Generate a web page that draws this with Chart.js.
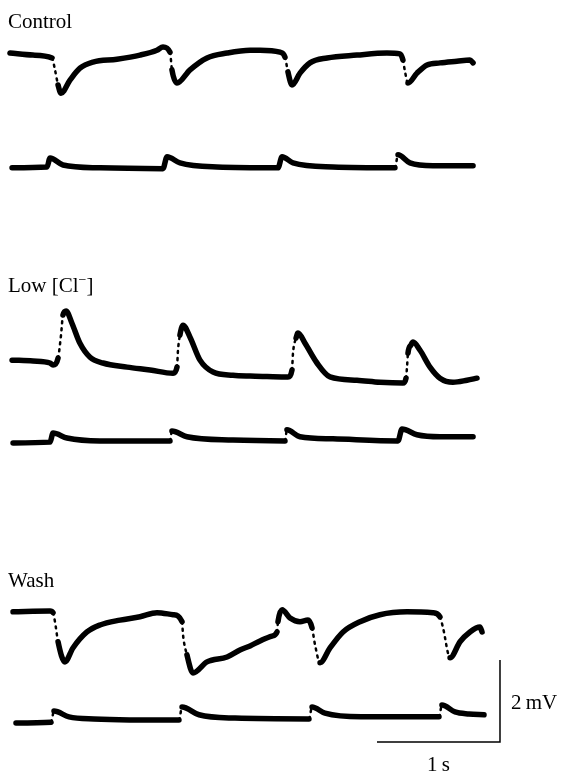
<!DOCTYPE html>
<html>
<head>
<meta charset="utf-8">
<script src="https://cdn.jsdelivr.net/npm/chart.js@4/dist/chart.umd.min.js"></script>
<style>
  html, body { margin: 0; padding: 0; background: #fff; }
  #wrap { position: relative; width: 566px; height: 773px; }
</style>
</head>
<body>
<div id="wrap"><canvas id="traces"></canvas></div>
<script>
// Lecturas de las trazas: tiempo (s) y potencial relativo (mV)
const controlTopTime = [0.081, 0.268, 0.423, 0.447, 0.472, 0.496, 0.569, 0.650, 0.756, 0.951, 1.138, 1.276, 1.325, 1.382, 1.398, 1.439, 1.545, 1.683, 1.846, 2.033, 2.114, 2.276, 2.317, 2.341, 2.374, 2.439, 2.520, 2.659, 2.902, 3.146, 3.252, 3.276, 3.293, 3.317, 3.390, 3.472, 3.577, 3.715, 3.821, 3.846];
const controlTopMV = [0, -0.05, -0.12, -0.41, -0.78, -0.98, -0.66, -0.37, -0.22, -0.15, -0.05, 0.07, 0.15, 0.02, -0.41, -0.73, -0.41, -0.12, 0, 0.07, 0.07, 0.02, -0.10, -0.46, -0.78, -0.49, -0.24, -0.12, -0.05, 0, -0.02, -0.17, -0.46, -0.73, -0.49, -0.29, -0.24, -0.20, -0.17, -0.24];

const controlBottomTime = [0.098, 0.382, 0.407, 0.512, 0.813, 1.325, 1.358, 1.463, 1.764, 2.260, 2.293, 2.382, 2.707, 3.211, 3.236, 3.333, 3.520, 3.846];
const controlBottomMV = [0, 0.02, 0.24, 0.07, 0, -0.02, 0.27, 0.12, 0.02, 0, 0.27, 0.12, 0.02, 0, 0.32, 0.12, 0.05, 0.05];

const lowClTopTime = [0.098, 0.268, 0.407, 0.431, 0.472, 0.496, 0.512, 0.537, 0.585, 0.650, 0.732, 0.837, 1.033, 1.220, 1.407, 1.439, 1.447, 1.463, 1.488, 1.545, 1.626, 1.732, 1.894, 2.033, 2.171, 2.341, 2.374, 2.382, 2.407, 2.423, 2.480, 2.577, 2.683, 2.902, 3.089, 3.276, 3.301, 3.309, 3.317, 3.341, 3.358, 3.415, 3.496, 3.577, 3.683, 3.797, 3.878];
const lowClTopMV = [0, -0.02, -0.07, -0.12, 0.05, 0.61, 1.10, 1.20, 0.90, 0.41, 0.07, -0.07, -0.17, -0.24, -0.32, -0.17, 0.24, 0.61, 0.85, 0.56, 0, -0.29, -0.37, -0.39, -0.40, -0.41, -0.24, 0.17, 0.54, 0.66, 0.41, -0.07, -0.41, -0.49, -0.54, -0.56, -0.44, -0.17, 0.17, 0.37, 0.44, 0.24, -0.17, -0.44, -0.54, -0.49, -0.44];

const lowClBottomTime = [0.106, 0.407, 0.431, 0.545, 0.813, 1.382, 1.398, 1.520, 1.894, 2.317, 2.333, 2.439, 2.707, 3.236, 3.268, 3.390, 3.577, 3.846];
const lowClBottomMV = [0, 0.02, 0.24, 0.12, 0.05, 0.05, 0.29, 0.15, 0.07, 0.05, 0.32, 0.15, 0.10, 0.05, 0.34, 0.20, 0.15, 0.15];

const washTopTime = [0.106, 0.407, 0.431, 0.447, 0.472, 0.528, 0.593, 0.707, 0.813, 0.976, 1.138, 1.276, 1.407, 1.480, 1.488, 1.520, 1.569, 1.683, 1.846, 1.951, 2.033, 2.114, 2.211, 2.252, 2.260, 2.293, 2.358, 2.439, 2.504, 2.537, 2.561, 2.602, 2.683, 2.789, 2.927, 3.089, 3.309, 3.520, 3.577, 3.602, 3.659, 3.740, 3.821, 3.902, 3.919];
const washTopMV = [0, 0.02, -0.02, -0.24, -0.73, -1.22, -0.88, -0.49, -0.32, -0.20, -0.12, -0.02, -0.07, -0.24, -0.56, -1.05, -1.49, -1.22, -1.10, -0.93, -0.83, -0.71, -0.59, -0.49, -0.24, 0.05, -0.15, -0.24, -0.20, -0.39, -0.80, -1.24, -0.88, -0.49, -0.24, -0.07, 0, -0.02, -0.12, -0.39, -1.12, -0.73, -0.49, -0.37, -0.49];

const washBottomTime = [0.130, 0.415, 0.439, 0.561, 0.764, 1.455, 1.480, 1.618, 1.911, 2.512, 2.537, 2.642, 2.935, 3.569, 3.593, 3.699, 3.813, 3.935];
const washBottomMV = [0, 0.02, 0.29, 0.15, 0.10, 0.07, 0.39, 0.20, 0.12, 0.10, 0.39, 0.24, 0.15, 0.15, 0.44, 0.27, 0.22, 0.20];

// Barra de escala: 1 s y 2 mV
const scaleBarTime = [0, 1, 1];
const scaleBarMV = [0, 0, 2];

const panelLabels = ['Control', 'Low [Cl', 'Wash'];

// Posición vertical (mV) de cada traza en la figura
const traceOffsets = [17.56, 14.76, 10.07, 8.05, 3.93, 1.22];
const scaleBarOrigin = { t: 3.065, mv: 0.756 };
const X_MAX = 566 / 123;
const Y_MAX = 773 / 41;

function toPoints(times, values, dt, dv) {
    return times.map((t, i) => ({ x: t + dt, y: values[i] + dv }));
}

const traceSets = [
    [controlTopTime, controlTopMV],
    [controlBottomTime, controlBottomMV],
    [lowClTopTime, lowClTopMV],
    [lowClBottomTime, lowClBottomMV],
    [washTopTime, washTopMV],
    [washBottomTime, washBottomMV]
];

// Transiciones rápidas se ven punteadas en el registro
function steep(ctx) {
    const dx = Math.abs(ctx.p1.x - ctx.p0.x);
    const dy = Math.abs(ctx.p1.y - ctx.p0.y);
    return dy > 9 && dy > 3.5 * dx;
}

const datasets = traceSets.map((pair, i) => ({
    data: toPoints(pair[0], pair[1], 0, traceOffsets[i]),
    borderColor: '#000',
    borderWidth: 5.5,
    borderCapStyle: 'round',
    borderJoinStyle: 'round',
    pointRadius: 0,
    cubicInterpolationMode: 'monotone',
    segment: {
        borderWidth: ctx => steep(ctx) ? 2.5 : undefined,
        borderDash: ctx => steep(ctx) ? [2, 5] : undefined
    }
}));

datasets.push({
    data: toPoints(scaleBarTime, scaleBarMV, scaleBarOrigin.t, scaleBarOrigin.mv),
    borderColor: '#000',
    borderWidth: 1.5,
    pointRadius: 0,
    tension: 0
});

const labelPlugin = {
    id: 'labels',
    afterDraw(chart) {
        const ctx = chart.ctx;
        const xs = chart.scales.x;
        const ys = chart.scales.y;
        ctx.save();
        ctx.fillStyle = '#000';
        ctx.font = '21px "Liberation Serif", "Times New Roman", serif';
        ctx.textBaseline = 'alphabetic';
        ctx.textAlign = 'left';
        ctx.fillText(panelLabels[0], 8, 28);
        ctx.fillText(panelLabels[1], 8, 292);
        let w = ctx.measureText(panelLabels[1]).width;
        ctx.font = '14px "Liberation Serif", serif';
        ctx.fillText('\u2212', 8 + w, 284);
        let w2 = ctx.measureText('\u2212').width;
        ctx.font = '21px "Liberation Serif", "Times New Roman", serif';
        ctx.fillText(']', 8 + w + w2, 292);
        ctx.fillText(panelLabels[2], 8, 587);

        const barRight = xs.getPixelForValue(scaleBarOrigin.t + 1);
        const barMid = xs.getPixelForValue(scaleBarOrigin.t + 0.5);
        const barMidY = ys.getPixelForValue(scaleBarOrigin.mv + 1);
        ctx.fillText('2\u2009mV', barRight + 11, barMidY + 8);
        ctx.textAlign = 'center';
        ctx.fillText('1\u2009s', barMid, 771);
        ctx.restore();
    }
};

new Chart(document.getElementById('traces'), {
    type: 'line',
    data: { datasets },
    options: {
        responsive: true,
        maintainAspectRatio: false,
        animation: false,
        parsing: false,
        layout: { padding: 0 },
        plugins: { legend: { display: false }, tooltip: { enabled: false } },
        scales: {
            x: { type: 'linear', display: false, min: 0, max: X_MAX },
            y: { type: 'linear', display: false, min: 0, max: Y_MAX }
        }
    },
    plugins: [labelPlugin]
});
</script>
</body>
</html>
